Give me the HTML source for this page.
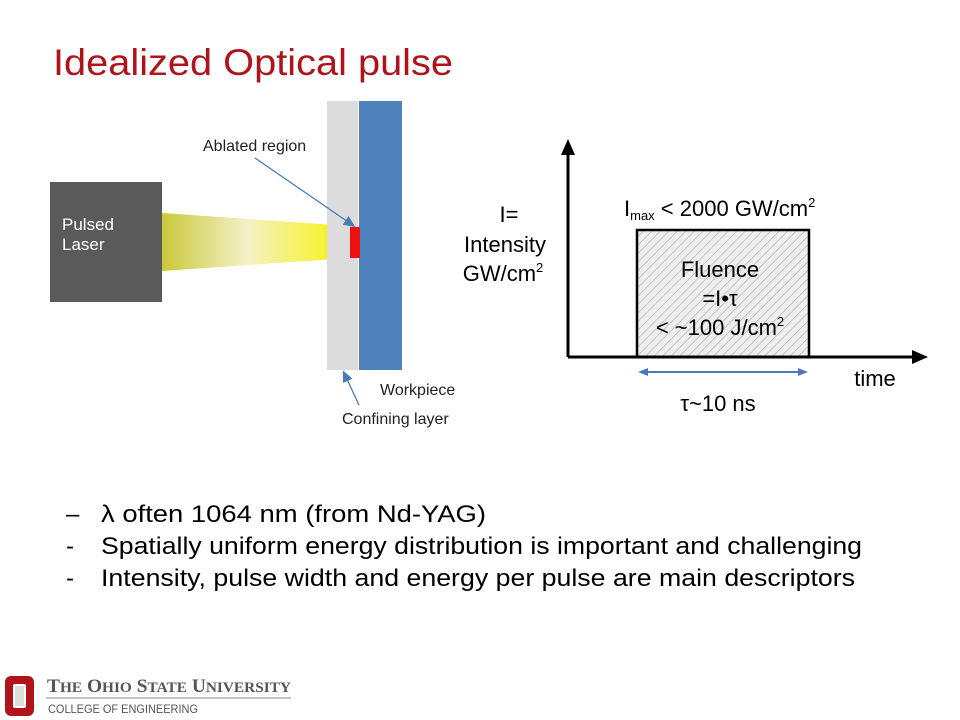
<!DOCTYPE html>
<html><head><meta charset="utf-8"><style>
body{margin:0;background:#fff;}
svg{display:block;font-family:"Liberation Sans",Arial,sans-serif;}
</style></head><body>
<svg width="960" height="720" viewBox="0 0 960 720" xmlns="http://www.w3.org/2000/svg">
<defs>
<linearGradient id="beam" x1="0" x2="1" y1="0" y2="0">
<stop offset="0" stop-color="#c9c83a"/><stop offset="0.45" stop-color="#f3f1c6"/><stop offset="0.85" stop-color="#f7f23a"/><stop offset="1" stop-color="#d6cf20"/>
</linearGradient>
<pattern id="hatch" width="6" height="6" patternUnits="userSpaceOnUse" patternTransform="rotate(45)">
<rect width="6" height="6" fill="#eeeeee"/><line x1="0" y1="0" x2="0" y2="6" stroke="#b5b5b5" stroke-width="1.5"/>
</pattern>
<marker id="ah" markerWidth="10" markerHeight="10" refX="5" refY="5" orient="auto"><path d="M0,1 L9,5 L0,9 z" fill="#4a7ab8"/></marker>
</defs>
<text x="53" y="75" font-size="37" fill="#b0141a" textLength="400" lengthAdjust="spacingAndGlyphs">Idealized Optical pulse</text>

<rect x="50" y="182" width="112" height="120" fill="#5a5a5a"/>
<text x="62" y="230" font-size="17" fill="#fff">Pulsed</text>
<text x="62" y="250" font-size="17" fill="#fff">Laser</text>
<polygon points="162,213 350,226 350,258 162,271" fill="url(#beam)"/>
<rect x="327" y="101" width="31" height="269" fill="#dcdcdc"/>
<rect x="359" y="101" width="43" height="269" fill="#4f81bd"/>
<rect x="350" y="227" width="10" height="31" fill="#ee1111"/>
<line x1="255" y1="158" x2="351" y2="224" stroke="#4a7ab8" stroke-width="1.3" marker-end="url(#ah)"/>
<line x1="359" y1="405" x2="345" y2="375" stroke="#4a7ab8" stroke-width="1.3" marker-end="url(#ah)"/>
<text x="203" y="151" font-size="16" fill="#222">Ablated region</text>
<text x="380" y="395" font-size="16" fill="#222">Workpiece</text>
<text x="342" y="424" font-size="16" fill="#222">Confining layer</text>

<rect x="637" y="230" width="172" height="127" fill="url(#hatch)" stroke="#000" stroke-width="2.5"/>
<line x1="568" y1="357" x2="915" y2="357" stroke="#000" stroke-width="3"/>
<polygon points="928,357 912,350 912,364" fill="#000"/>
<line x1="568" y1="357" x2="568" y2="152" stroke="#000" stroke-width="3"/>
<polygon points="568,139 561,155 575,155" fill="#000"/>
<line x1="644" y1="372" x2="802" y2="372" stroke="#4a7ab8" stroke-width="2"/>
<polygon points="638,372 648,368 648,376" fill="#4a7ab8"/>
<polygon points="808,372 798,368 798,376" fill="#4a7ab8"/>
<g font-size="22" fill="#000" text-anchor="middle">
<text x="509" y="222">I=</text>
<text x="505" y="252">Intensity</text>
<text x="503" y="281">GW/cm<tspan font-size="13" dy="-9">2</tspan></text>
<text x="720" y="277">Fluence</text>
<text x="720" y="306">=I•τ</text>
<text x="720" y="335">&lt; ~100 J/cm<tspan font-size="13" dy="-9">2</tspan></text>
<text x="875" y="386">time</text>
<text x="718" y="411">τ~10 ns</text>
</g>
<text x="624" y="216" font-size="22">I<tspan font-size="13" dy="4">max</tspan><tspan dy="-4"> &lt; 2000 GW/cm</tspan><tspan font-size="13" dy="-9">2</tspan></text>

<g font-size="24" fill="#000">
<text x="66" y="522">–</text><text x="101" y="522" textLength="385" lengthAdjust="spacingAndGlyphs">λ often 1064 nm  (from Nd-YAG)</text>
<text x="66" y="554">-</text><text x="101" y="554" textLength="761" lengthAdjust="spacingAndGlyphs">Spatially uniform energy distribution is important and challenging</text>
<text x="66" y="586">-</text><text x="101" y="586" textLength="754" lengthAdjust="spacingAndGlyphs">Intensity, pulse width and energy per pulse are main descriptors</text>
</g>

<rect x="5" y="676" width="29" height="40" rx="6" fill="#b0141a"/>
<rect x="13" y="684" width="13" height="24" rx="2" fill="#fff"/>
<rect x="15" y="686" width="9" height="20" fill="#dddddd"/>
<text x="47" y="692" font-size="19" font-family="Liberation Serif, serif" fill="#555" font-weight="bold" textLength="244" lengthAdjust="spacingAndGlyphs">T<tspan font-size="15">HE</tspan> O<tspan font-size="15">HIO</tspan> S<tspan font-size="15">TATE</tspan> U<tspan font-size="15">NIVERSITY</tspan></text>
<line x1="46" y1="698" x2="291" y2="698" stroke="#888" stroke-width="1"/>
<text x="48" y="713" font-size="12" fill="#555" textLength="150" lengthAdjust="spacingAndGlyphs">COLLEGE OF ENGINEERING</text>
</svg>
</body></html>
